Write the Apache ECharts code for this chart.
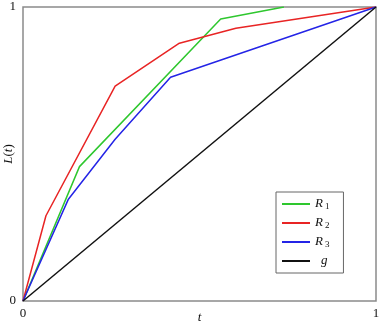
<!DOCTYPE html>
<html>
<head>
<meta charset="utf-8">
<script src="https://cdn.jsdelivr.net/npm/echarts@6/dist/echarts.min.js"></script>
<style>
  html, body { margin: 0; padding: 0; background: #fff; }
  #chart { width: 383px; height: 323px; }
</style>
</head>
<body>
<div id="chart"></div>
<script>
  // points [t, L(t)]
  var r1Data = [[0, 0], [0.16, 0.457], [0.56, 0.959], [0.739, 1]];
  var r2Data = [[0, 0], [0.065, 0.29], [0.261, 0.731], [0.443, 0.877], [0.603, 0.928], [1, 1]];
  var r3Data = [[0, 0], [0.128, 0.345], [0.261, 0.55], [0.418, 0.761], [1, 1]];
  var gData = [[0, 0], [1, 1]];
  var seriesNames = ['R1', 'R2', 'R3', 'g'];
  var seriesColors = ['#2ec72e', '#e82424', '#2424e6', '#111111'];

  var serif = "'Liberation Serif', 'Times New Roman', serif";
  var chart = echarts.init(document.getElementById('chart'));

  function lineSeries(name, data, color) {
    return {
      name: name,
      type: 'line',
      data: data,
      symbol: 'none',
      animation: false,
      lineStyle: { color: color, width: 1.5 },
      itemStyle: { color: color }
    };
  }

  var option = {
    backgroundColor: '#fff',
    grid: {
      left: 23, right: 7, top: 7, bottom: 22,
      containLabel: false,
      outerBoundsMode: 'none',
      show: true,
      borderColor: '#8a8a8a',
      borderWidth: 1.5
    },
    legend: {
      orient: 'vertical',
      left: 276,
      top: 192,
      padding: [5, 14, 5, 6],
      itemGap: 5,
      itemWidth: 28,
      itemHeight: 2,
      icon: 'rect',
      borderColor: '#666',
      borderWidth: 1,
      data: seriesNames,
      formatter: function (name) {
        if (name === 'g') return '{g|g}';
        return '{i|R}{s|' + name.charAt(1) + '}';
      },
      textStyle: {
        lineHeight: 14,
        rich: {
          i: { fontFamily: serif, fontStyle: 'italic', fontSize: 13, color: '#111', lineHeight: 14 },
          s: { fontFamily: serif, fontSize: 9, color: '#111', padding: [5, 0, 0, 2], lineHeight: 14 },
          g: { fontFamily: serif, fontStyle: 'italic', fontSize: 13, color: '#111', padding: [0, 0, 0, 6], lineHeight: 14 }
        }
      }
    },
    xAxis: {
      type: 'value',
      min: 0, max: 1, interval: 1,
      axisLine: { show: false },
      axisTick: { show: false },
      splitLine: { show: false },
      axisLabel: { fontFamily: serif, fontSize: 13, color: '#111', margin: 6, showMinLabel: true, showMaxLabel: true },
      name: 't',
      nameLocation: 'middle',
      nameGap: 10,
      nameMoveOverlap: false,
      nameTextStyle: { fontFamily: serif, fontStyle: 'italic', fontSize: 13, color: '#111' }
    },
    yAxis: {
      type: 'value',
      min: 0, max: 1, interval: 1,
      axisLine: { show: false },
      axisTick: { show: false },
      splitLine: { show: false },
      axisLabel: { fontFamily: serif, fontSize: 13, color: '#111', margin: 7, showMinLabel: true, showMaxLabel: true },
      name: '{i|L}{p|(}{i|t}{p|)}',
      nameLocation: 'middle',
      nameGap: 8,
      nameMoveOverlap: false,
      nameTextStyle: {
        rich: {
          i: { fontFamily: serif, fontStyle: 'italic', fontSize: 13, color: '#111' },
          p: { fontFamily: serif, fontSize: 13, color: '#111' }
        }
      }
    },
    series: [
      lineSeries(seriesNames[0], r1Data, seriesColors[0]),
      lineSeries(seriesNames[1], r2Data, seriesColors[1]),
      lineSeries(seriesNames[2], r3Data, seriesColors[2]),
      lineSeries(seriesNames[3], gData, seriesColors[3])
    ]
  };

  chart.setOption(option);
</script>
</body>
</html>
